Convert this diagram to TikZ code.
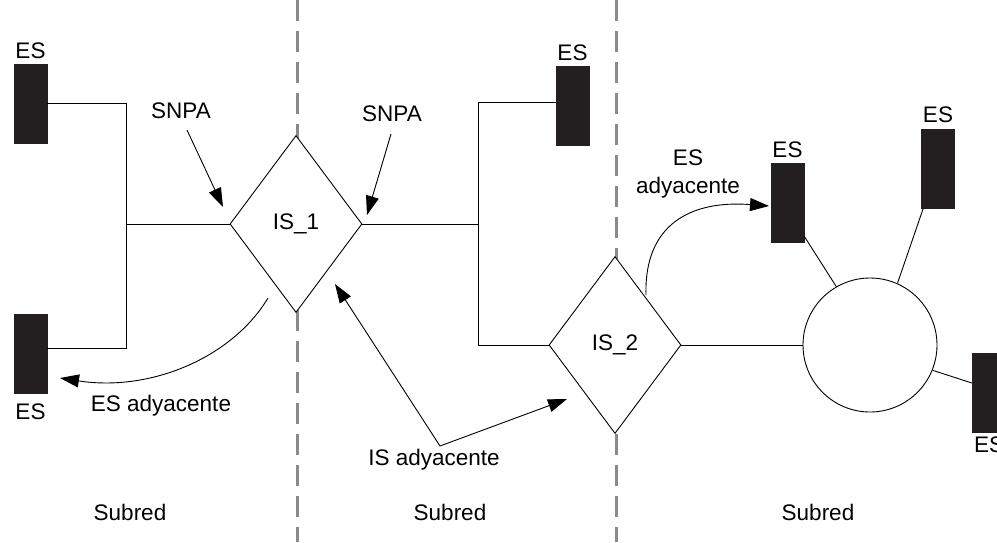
\documentclass[tikz,border=0pt]{standalone}
\usepackage{fontspec}
\setmainfont{Liberation Sans}
\usetikzlibrary{arrows.meta,shapes.geometric}
\definecolor{esfill}{HTML}{231F20}
\definecolor{sepgray}{HTML}{8A8A8A}
\begin{document}
\begin{tikzpicture}[x=1pt,y=-1pt,
  lbl/.style={font=\fontsize{22.5}{28}\selectfont, inner sep=0pt, align=center},
  esbox/.style={draw=esfill, fill=esfill, minimum width=33pt, minimum height=79pt, inner sep=0pt, line width=0.4pt},
  router/.style={diamond, draw, fill=white, minimum width=132pt, minimum height=177pt, inner sep=0pt, line width=0.9pt, font=\fontsize{22.5}{26}\selectfont},
  hubnode/.style={circle, draw, fill=white, minimum size=134pt, inner sep=0pt, line width=0.9pt},
  link/.style={line width=0.9pt},
  sepline/.style={draw=sepgray, line width=3pt, dash pattern=on 21pt off 10pt},
  arr/.style={line width=0.9pt, -{Triangle[length=19pt,width=13pt]}},
  darr/.style={line width=0.9pt, {Triangle[length=19pt,width=13pt]}-{Triangle[length=19pt,width=13pt]}}
]
\useasboundingbox (0,0) rectangle (997,542);
\fill[white] (0,0) rectangle (997,542);

% separators
\coordinate (s1t) at (297,0);
\coordinate (s1b) at (297,542);
\coordinate (s2t) at (616,0);
\coordinate (s2b) at (616,542);
\draw[sepline] (s1t) -- (s1b);
\draw[sepline] (s2t) -- (s2b);

% routers and hub
\node[router] (IS1) at (296,224) {IS\_1};
\node[router] (IS2) at (615,345) {IS\_2};
\node[hubnode] (hub) at (870,345) {};

% end systems
\node[esbox] (es1) at (30.5,103.5) {};
\node[esbox] (es2) at (30.5,353.5) {};
\node[esbox] (es3) at (572.5,105.5) {};
\node[esbox] (es4) at (787.5,202.5) {};
\node[esbox] (es5) at (938,168.5) {};
\node[esbox] (es6) at (988.5,392.5) {};

% ES labels
\node[lbl] (l1) at (30.5,50.5) {ES};
\node[lbl] (l2) at (30.5,412) {ES};
\node[lbl] (l3) at (572.5,53) {ES};
\node[lbl] (l4) at (787.5,150) {ES};
\node[lbl] (l5) at (938,115) {ES};
\node[lbl] (l6) at (989,445) {ES};

% left subnet wiring
\coordinate (j1) at (126,103.5);
\coordinate (j2) at (126,348);
\draw[link] (es1.east) -- (j1) -- (j2) -- (j2 -| es2.east);
\draw[link] (IS1.west) -- (IS1.west -| j1);

% middle subnet wiring
\coordinate (j3) at (478,102);
\coordinate (j4) at (478,345);
\draw[link] (IS1.east) -- (IS1.east -| j3);
\draw[link] (j3 -| es3.west) -- (j3) -- (j4) -- (IS2.west);

% right subnet wiring
\draw[link] (IS2.east) -- (hub.west);
\draw[link] (hub.120) -- ([yshift=6pt]es4.south east);
\draw[link] (hub.66) -- ([xshift=2pt]es5.south west);
\draw[link] (hub.-22) -- ([yshift=9.5pt]es6.west);

% SNPA labels and arrows
\node[lbl] (snpa1) at (181,111) {SNPA};
\node[lbl] (snpa2) at (392,114) {SNPA};
\coordinate (a1s) at (187,130);
\coordinate (a1e) at (223,207);
\coordinate (a2s) at (391,134);
\coordinate (a2e) at (367,215);
\draw[arr] (a1s) -- (a1e);
\draw[arr] (a2s) -- (a2e);

% ES adyacente (left)
\node[lbl] (esad1) at (161,406) {ES adyacente};
\coordinate (b1s) at (268,298);
\coordinate (b1e) at (60,378);
\draw[arr] (b1s) .. controls (232,358) and (150,392) .. (b1e);

% ES adyacente (right)
\node[lbl] (esad2) at (688,174) {ES\\adyacente};
\coordinate (b2s) at (646,295);
\coordinate (b2e) at (769,206);
\draw[arr] (b2s) .. controls (644,225) and (690,200) .. (b2e);

% IS adyacente
\node[lbl] (isad) at (434,460) {IS adyacente};
\coordinate (c1) at (335,284);
\coordinate (cv) at (440,446);
\coordinate (c2) at (567,399);
\draw[darr] (c1) -- (cv) -- (c2);

% subnet labels
\node[lbl] (sub1) at (130,512) {Subred};
\node[lbl] (sub2) at (450,512) {Subred};
\node[lbl] (sub3) at (818,512) {Subred};
\end{tikzpicture}
\end{document}
